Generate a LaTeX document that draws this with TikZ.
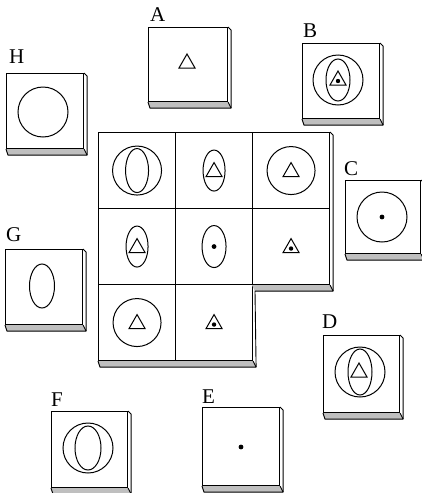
\documentclass[tikz,border=0pt]{standalone}
\usepackage{fontspec}
\setmainfont{Liberation Serif}
\begin{document}
\begin{tikzpicture}[x=1pt,y=-1pt,
  tile/.style={draw, line width=1.1pt, fill=white, inner sep=0pt, minimum width=77pt, minimum height=75pt, anchor=north west},
  cell/.style={draw, line width=1.1pt, inner sep=0pt, minimum width=77pt, minimum height=76pt, anchor=north west},
  edge/.style={line width=0.9pt, line join=round},
  sidefill/.style={fill=gray!50},
  shp/.style={line width=1pt},
  lab/.style={inner sep=0pt, anchor=base west, font=\fontsize{21}{24}\selectfont}]
\newcommand\tshadow[1]{%
  \fill[sidefill] (#1.south west) -- ++(2,6) -- ([shift={(3,6)}]#1.south east) -- (#1.south east) -- cycle;
  \draw[edge] (#1.south west) -- ++(2,6) -- ([shift={(3,6)}]#1.south east) -- ([shift={(3,3)}]#1.north east) -- (#1.north east);
  \draw[edge] (#1.south east) -- ++(3,6);}
\newcommand\tri[1]{\draw[shp, line join=miter] (#1) +(-8,6) -- +(0,-8) -- +(8,6) -- cycle;}
\newcommand\tdot[1]{\fill (#1) +(0,2) circle (2.2);}
\useasboundingbox (0,0) rectangle (422,493);
% ---- single tiles ----
\node[tile, minimum width=79pt, minimum height=74pt] (A) at (148,27) {};
\node[tile] (H) at (6,73) {};
\node[tile] (B) at (302,43) {};
\node[tile, minimum width=75pt, minimum height=73pt] (C) at (345,180) {};
\node[tile] (G) at (5,249) {};
\node[tile, minimum width=76pt, minimum height=77pt] (D) at (323,335) {};
\node[tile, minimum width=76pt, minimum height=76pt] (F) at (51,411) {};
\node[tile, minimum width=77pt, minimum height=78pt] (E) at (202,407) {};
\foreach \t in {A,H,B,C,G,D,F,E}{\tshadow{\t}}
% ---- labels ----
\node[lab] (lA) at (150,21) {A};
\node[lab] (lH) at (9,63) {H};
\node[lab] (lB) at (303,37) {B};
\node[lab] (lC) at (344,175) {C};
\node[lab] (lG) at (6,241) {G};
\node[lab] (lD) at (322,328) {D};
\node[lab] (lF) at (51,406) {F};
\node[lab] (lE) at (202,403) {E};
% ---- tile contents ----
\tri{187,62}
\draw[shp] (43,112) circle (25);
\draw[shp] (338,80) circle (25);
\draw[shp] (338,80) ellipse (12 and 21);
\tri{338,79}\tdot{338,79}
\draw[shp] (382,217) circle (25);
\fill (382,217) circle (2.4);
\draw[shp] (42,286) ellipse (12.5 and 22);
\draw[shp] (360,372) circle (25);
\draw[shp] (360,372) ellipse (12 and 23);
\tri{359,371}
\draw[shp] (88,448) circle (25);
\draw[shp] (88,448) ellipse (13 and 22);
\fill (241,447) circle (2.4);
% ---- grid ----
\node[cell] (c11) at (98,132) {};
\node[cell] (c12) at (175,132) {};
\node[cell] (c13) at (252,132) {};
\node[cell] (c21) at (98,208) {};
\node[cell] (c22) at (175,208) {};
\node[cell] (c23) at (252,208) {};
\node[cell] (c31) at (98,284) {};
\node[cell] (c32) at (175,284) {};
\fill[sidefill] (c31.south west) -- ++(2,6) -- ([shift={(3,6)}]c32.south east) -- (c32.south east) -- cycle;
\fill[sidefill] (c23.south west) -- ([shift={(3,6)}]c23.south west) -- ([shift={(3,6)}]c23.south east) -- (c23.south east) -- cycle;
\draw[edge] (c31.south west) -- ++(2,6) -- ([shift={(3,6)}]c32.south east) -- ([shift={(3,6)}]c23.south west) -- ([shift={(3,6)}]c23.south east) -- ([shift={(3,3)}]c13.north east) -- (c13.north east);
\draw[edge] (c32.south east) -- ++(3,6);
\draw[edge] (c23.south east) -- ++(3,6);
% cell contents
\draw[shp] (c11.center) circle (24.5);
\draw[shp] (c11.center) ellipse (11.5 and 22);
\draw[shp] (c12.center) ellipse (11 and 20.5);
\tri{c12.center}
\draw[shp] (c13.center) circle (24);
\tri{c13.center}
\draw[shp] (c21.center) ellipse (11 and 20.5);
\tri{c21.center}
\draw[shp] (c22.center) ellipse (12 and 21);
\fill (c22.center) circle (2.4);
\tri{c23.center}\tdot{c23.center}
\draw[shp] (c31.center) circle (24);
\tri{c31.center}
\tri{c32.center}\tdot{c32.center}
\end{tikzpicture}
\end{document}
